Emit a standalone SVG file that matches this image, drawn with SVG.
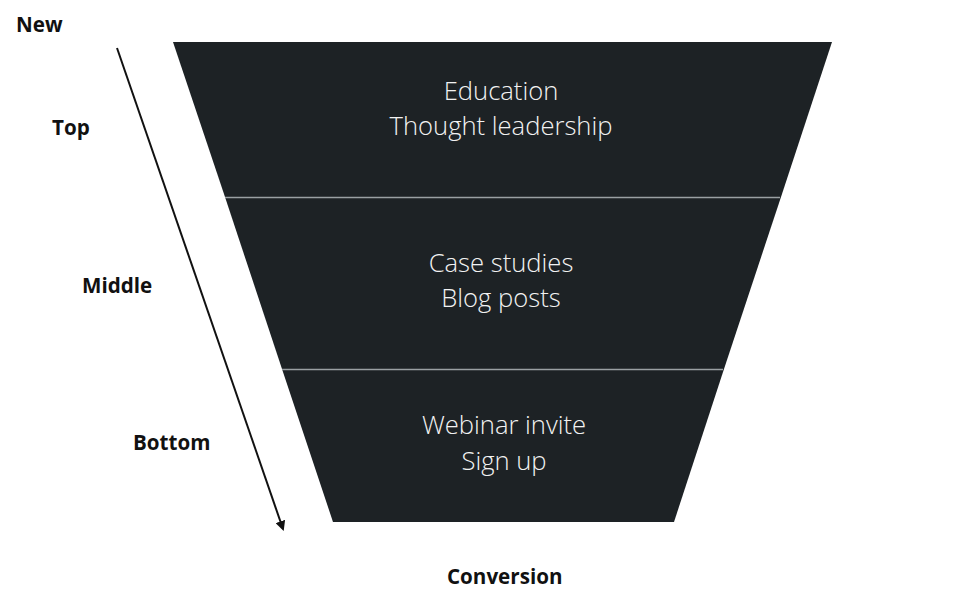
<svg xmlns="http://www.w3.org/2000/svg" width="961" height="604" viewBox="0 0 961 604">
<style>
.lbl{font-family:"Open Sans","Liberation Sans",sans-serif;font-weight:700;font-size:20.6px;fill:#111}
.in{font-family:"Open Sans","Liberation Sans",sans-serif;font-weight:300;font-size:25.6px;fill:#f2f2f2;text-anchor:middle}
.seg{fill:#1d2225}
.div{stroke:#9aa0a3;stroke-width:1.5}
</style>
<defs>
<marker id="ah" markerWidth="10" markerHeight="10" refX="8" refY="5" orient="auto" markerUnits="userSpaceOnUse">
<path d="M0,0 L10,5 L0,10 z" fill="#111"/>
</marker>
</defs>
<rect width="961" height="604" fill="#fff"/>
<g id="top">
<polygon class="seg" points="173,42 832,42 781,197 225,197"/>
<text class="in" x="501" y="100">Education</text>
<text class="in" x="501" y="135">Thought leadership</text>
</g>
<g id="middle">
<polygon class="seg" points="225,197 781,197 724,369 282,369"/>
<text class="in" x="501" y="272">Case studies</text>
<text class="in" x="501" y="307">Blog posts</text>
</g>
<g id="bottom">
<polygon class="seg" points="282,369 724,369 674,522 333,522"/>
<text class="in" x="504" y="434">Webinar invite</text>
<text class="in" x="504" y="470">Sign up</text>
</g>
<g id="dividers">
<line class="div" x1="225" y1="197.5" x2="780" y2="197.5"/>
<line class="div" x1="282" y1="369.5" x2="723" y2="369.5"/>
</g>
<g id="connectors">
<line x1="117" y1="48" x2="283" y2="529" stroke="#111" stroke-width="2" marker-end="url(#ah)"/>
</g>
<g id="labels">
<text class="lbl" x="16" y="32">New</text>
<text class="lbl" x="52" y="135">Top</text>
<text class="lbl" x="82" y="293">Middle</text>
<text class="lbl" x="133" y="450">Bottom</text>
<text class="lbl" x="447" y="584">Conversion</text>
</g>
</svg>
